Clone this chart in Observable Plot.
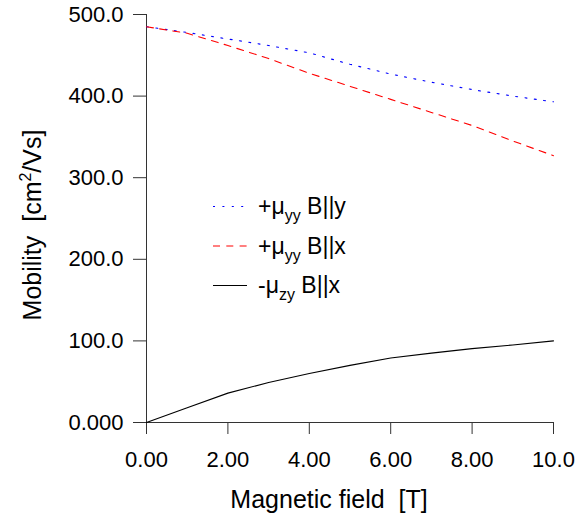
<!DOCTYPE html>
<html>
<head>
<meta charset="utf-8">
<script src="https://cdn.jsdelivr.net/npm/d3@7"></script>
<script src="https://cdn.jsdelivr.net/npm/@observablehq/plot@0.6"></script>
<style>
  html, body { margin: 0; padding: 0; background: #fff; }
  svg text { font-family: "Liberation Sans", Arial, Helvetica, sans-serif; }
</style>
</head>
<body>
<div id="chart"></div>
<script>
// Magnetic field [T]
const field = [0, 1, 2, 3, 4, 5, 6, 7, 8, 9, 10];
// +mu_yy, B||y (blue dotted)
const muYY_By = [485, 478, 470, 462, 453, 439, 427, 417, 408, 400, 393];
// +mu_yy, B||x (red dashed)
const muYY_Bx = [485, 477, 462, 446, 428, 412, 396, 380, 364, 345, 327];
// -mu_zy, B||x (black solid)
const muZY_Bx = [0, 18, 36, 49, 60, 70, 79, 85, 90.5, 95, 100];

const xTicks = [0, 2, 4, 6, 8, 10];
const yTicks = [0, 100, 200, 300, 400, 500];

const series = [
  {key: "By", values: muYY_By, color: "#0000ff", dash: "2,7.4", sub: "yy", pre: "+\u03bc", post: " B||y"},
  {key: "Bx", values: muYY_Bx, color: "#ff0000", dash: "7,6.3", sub: "yy", pre: "+\u03bc", post: " B||x"},
  {key: "zy", values: muZY_Bx, color: "#000000", dash: null, sub: "zy", pre: "-\u03bc", post: " B||x"}
];

const rows = series.flatMap(s => field.map((b, i) => ({b, v: s.values[i], key: s.key})));

const axisColor = "#333";
const chart = Plot.plot({
  width: 581,
  height: 519,
  marginLeft: 146,
  marginRight: 28,
  marginTop: 14,
  marginBottom: 97,
  style: {fontFamily: "Liberation Sans, Arial, sans-serif", background: "#fff", color: "#000"},
  x: {domain: [0, 10], label: null},
  y: {domain: [0, 500], label: null},
  marks: [
    Plot.axisX({ticks: xTicks, tickFormat: d3.format(".3r"), tickSize: 12, tickPadding: 17, fontSize: 22, stroke: axisColor, label: null}),
    Plot.axisY({ticks: yTicks, tickFormat: d3.format(".4r"), tickSize: 13, tickPadding: 10, fontSize: 22, stroke: axisColor, label: null}),
    Plot.ruleX([0], {stroke: axisColor, insetBottom: -12}),
    Plot.ruleY([0], {stroke: axisColor, insetLeft: -13}),
    ...series.map(s => Plot.line(rows.filter(r => r.key === s.key), {
      x: "b", y: "v", stroke: s.color, strokeWidth: 1.1,
      strokeDasharray: s.dash ?? undefined
    }))
  ]
});
document.getElementById("chart").append(chart);

const svg = d3.select(chart);
const font = "Liberation Sans, Arial, sans-serif";

// Axis titles
svg.append("text")
  .attr("x", 329).attr("y", 508)
  .attr("text-anchor", "middle")
  .attr("font-size", 25).attr("font-family", font)
  .style("white-space", "pre")
  .text("Magnetic field  [T]");

const yt = svg.append("text")
  .attr("transform", "translate(41,225) rotate(-90)")
  .attr("text-anchor", "middle")
  .attr("font-size", 25).attr("font-family", font)
  .style("white-space", "pre");
yt.append("tspan").text("Mobility  [cm");
yt.append("tspan").attr("dy", -10).attr("font-size", 16).text("2");
yt.append("tspan").attr("dy", 10).text("/Vs]");

// Legend
const leg = svg.append("g");
series.forEach((s, i) => {
  const yb = 214 + i * 39.5;
  const yl = yb - 7.5;
  leg.append("line")
    .attr("x1", 213).attr("x2", 247).attr("y1", yl).attr("y2", yl)
    .attr("stroke", s.color).attr("stroke-width", 1.1)
    .attr("stroke-dasharray", s.dash);
  const t = leg.append("text")
    .attr("x", 258).attr("y", yb)
    .attr("text-anchor", "start")
    .attr("font-size", 23).attr("font-family", font)
    .style("white-space", "pre");
  t.append("tspan").text(s.pre);
  t.append("tspan").attr("dy", 7).attr("font-size", 16).text(s.sub);
  t.append("tspan").attr("dy", -7).text(s.post);
});
</script>
</body>
</html>
